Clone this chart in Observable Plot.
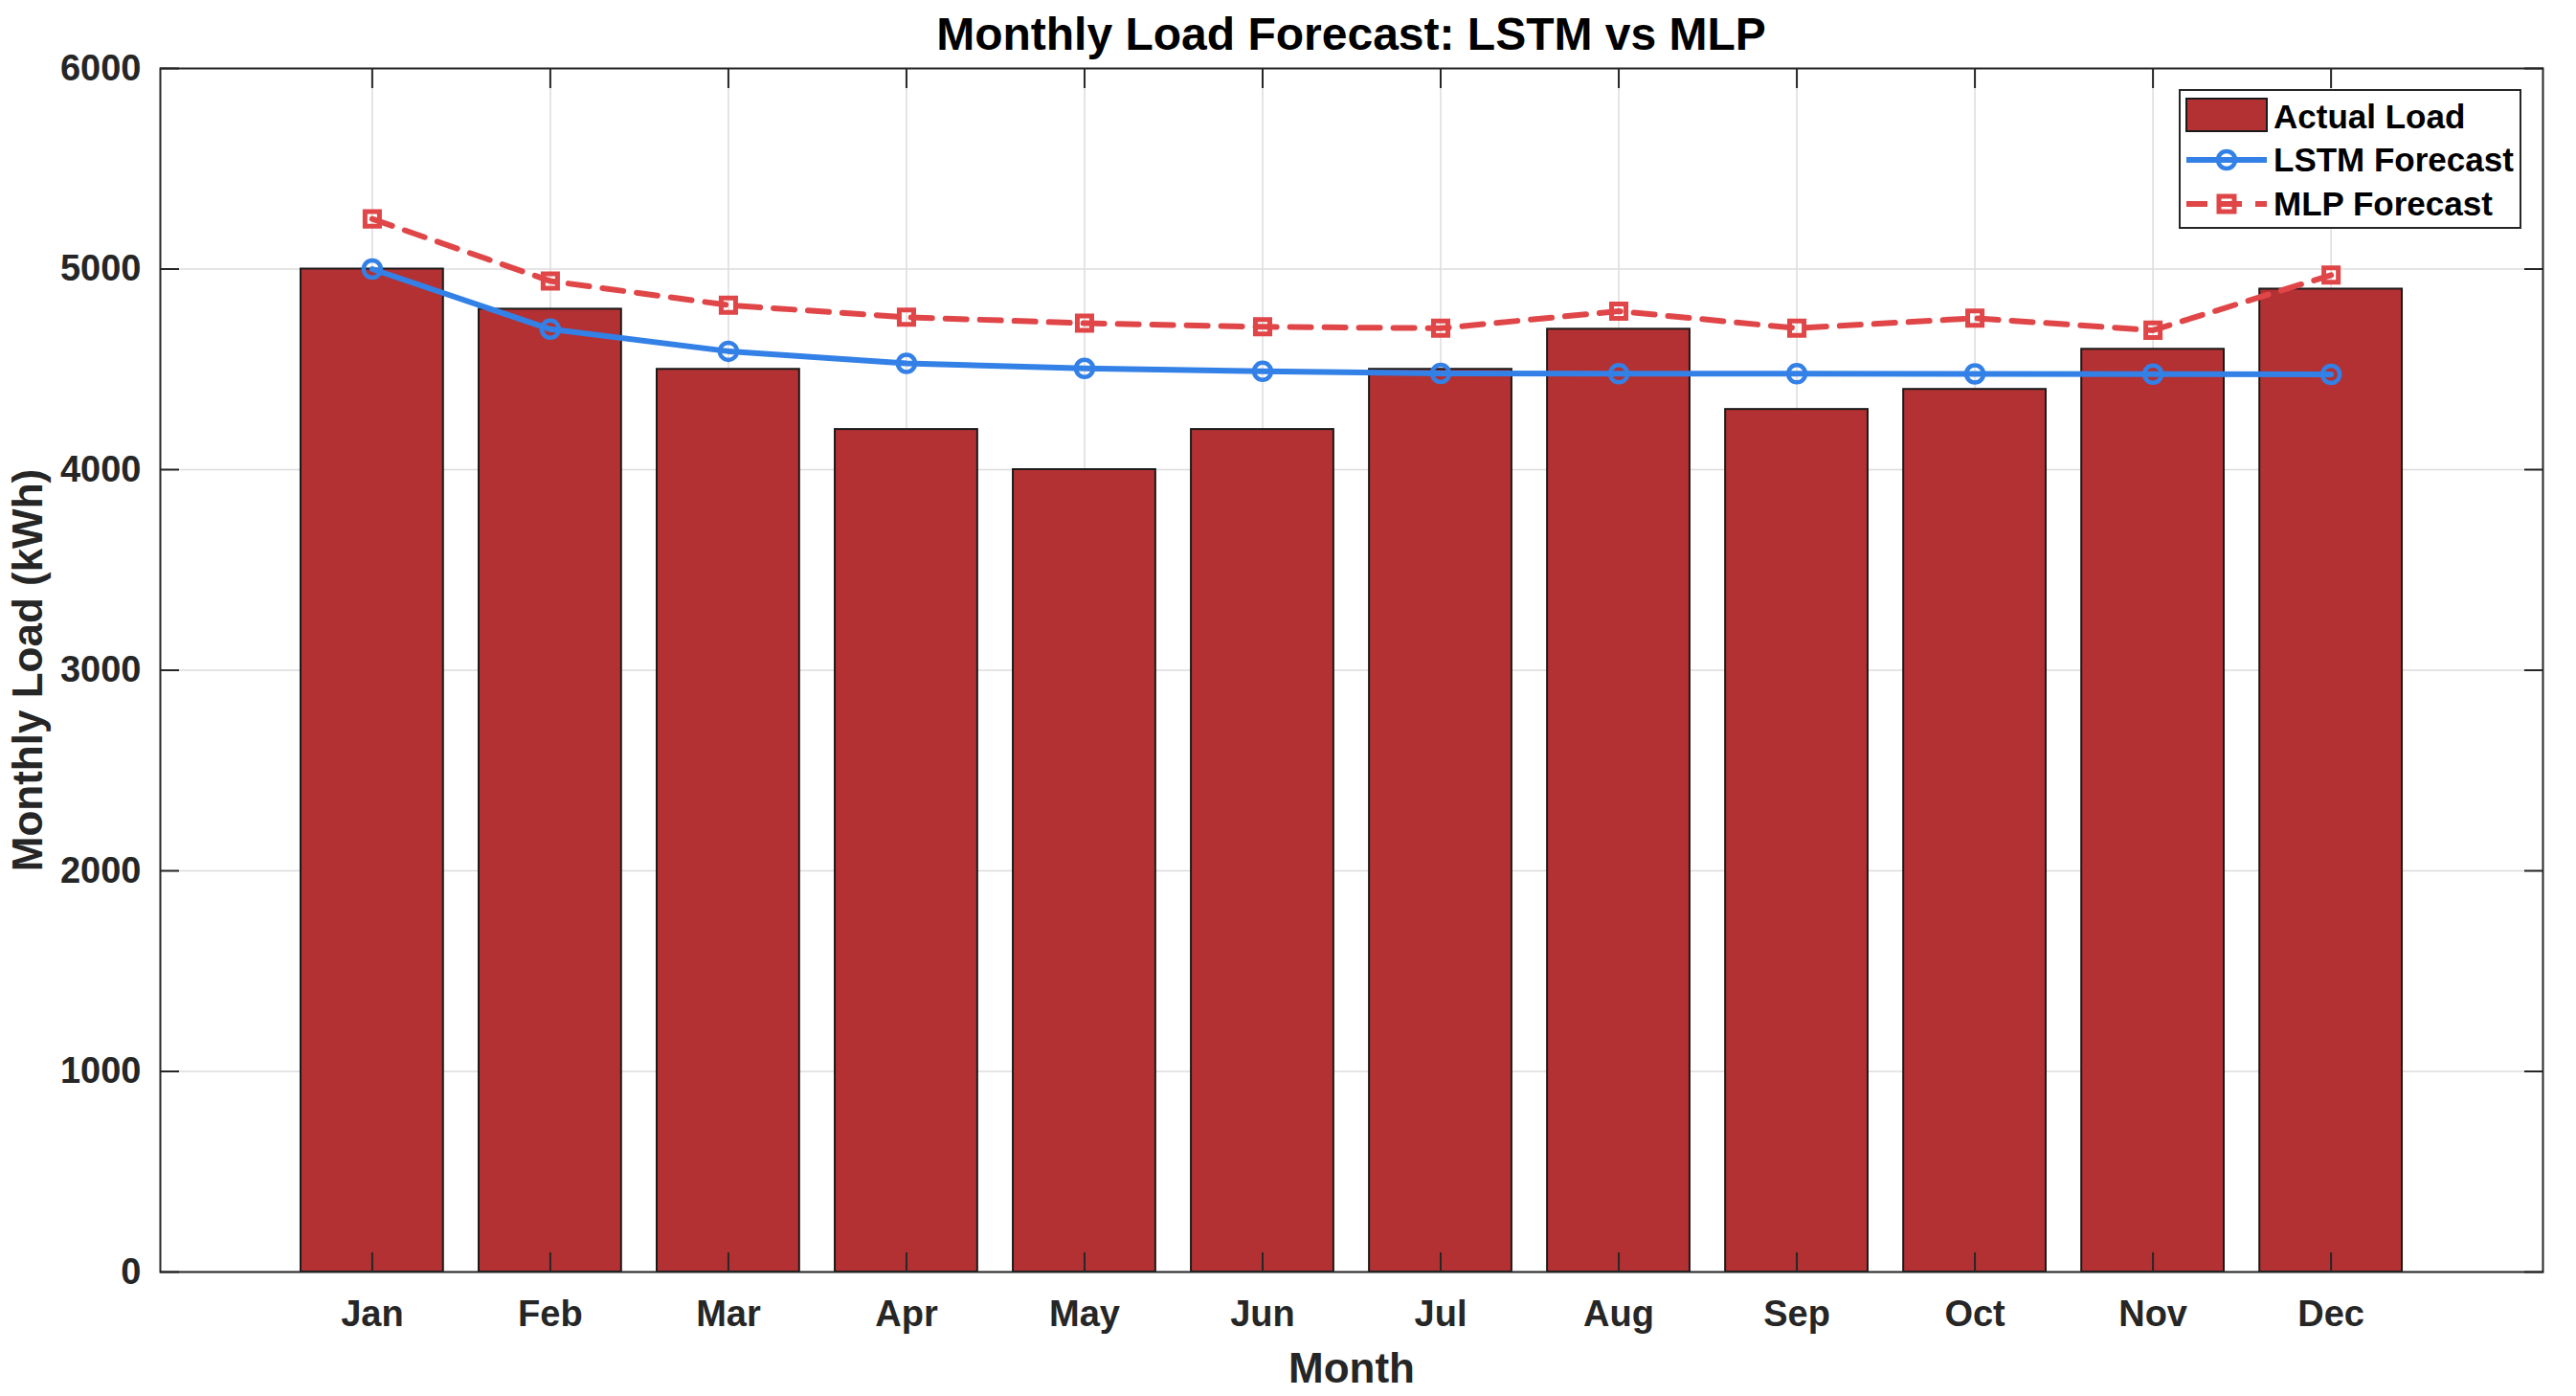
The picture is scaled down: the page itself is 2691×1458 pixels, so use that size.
<!DOCTYPE html>
<html>
<head>
<meta charset="utf-8">
<script src="https://cdn.jsdelivr.net/npm/d3@7"></script>
<script src="https://cdn.jsdelivr.net/npm/@observablehq/plot@0.6"></script>
<style>
  html, body { margin: 0; padding: 0; background: #fff; }
  #wrap { position: relative; width: 2691px; height: 1458px; font-family: "Liberation Sans", Arial, Helvetica, sans-serif; }
  #title { position: absolute; left: 167px; width: 2489px; top: 12px; text-align: center; font-size: 48px; line-height: 48px; font-weight: bold; color: #000; }
  #legend { position: absolute; left: 2276px; top: 93px; }
</style>
</head>
<body>
<div id="wrap">
  <div id="chart"></div>
  <div id="title">Monthly Load Forecast: LSTM vs MLP</div>
  <svg id="legend" width="360" height="148" xmlns="http://www.w3.org/2000/svg">
    <rect x="1" y="1" width="356" height="144" fill="#fff" stroke="#262626" stroke-width="2"/>
    <rect x="8" y="10" width="84" height="34" fill="rgb(179,49,51)" stroke="#1a1a1a" stroke-width="2"/>
    <text x="99" y="41" font-size="35" font-weight="bold" fill="#000" font-family="Liberation Sans, Arial, sans-serif">Actual Load</text>
    <line x1="8" x2="92" y1="74" y2="74" stroke="rgb(51,128,230)" stroke-width="6"/>
    <circle cx="50" cy="74" r="9" fill="none" stroke="rgb(51,128,230)" stroke-width="4.5"/>
    <text x="99" y="86" font-size="35" font-weight="bold" fill="#000" font-family="Liberation Sans, Arial, sans-serif">LSTM Forecast</text>
    <line x1="8" x2="92" y1="120" y2="120" stroke="rgb(224,70,72)" stroke-width="6" stroke-dasharray="22,14"/>
    <rect x="42" y="112" width="16" height="16" fill="none" stroke="rgb(224,70,72)" stroke-width="5"/>
    <text x="99" y="132" font-size="35" font-weight="bold" fill="#000" font-family="Liberation Sans, Arial, sans-serif">MLP Forecast</text>
  </svg>
</div>
<script>
// ---- data ----
const months = ["Jan", "Feb", "Mar", "Apr", "May", "Jun", "Jul", "Aug", "Sep", "Oct", "Nov", "Dec"];
const actualLoad = [5000, 4800, 4500, 4200, 4000, 4200, 4500, 4700, 4300, 4400, 4600, 4900];
const lstmForecast = [5000, 4700, 4590, 4530, 4505, 4490, 4480, 4478, 4478, 4477, 4476, 4475];
const mlpForecast = [5250, 4940, 4820, 4760, 4730, 4712, 4705, 4790, 4705, 4755, 4695, 4970];
const yTicks = [0, 1000, 2000, 3000, 4000, 5000, 6000];

// ---- tables ----
const monthIdx = months.map((m, i) => i + 1);
const bars = months.map((m, i) => ({ i: i + 1, month: m, value: actualLoad[i] }));
const lstm = months.map((m, i) => ({ i: i + 1, month: m, value: lstmForecast[i] }));
const mlp = months.map((m, i) => ({ i: i + 1, month: m, value: mlpForecast[i] }));

const barColor = "rgb(179,49,51)";
const lstmColor = "rgb(51,128,230)";
const mlpColor = "rgb(224,70,72)";
const axisColor = "#262626";
const gridColor = "#dcdcdc";
const font = "'Liberation Sans', Arial, Helvetica, sans-serif";

const chart = Plot.plot({
  width: 2691,
  height: 1458,
  marginLeft: 167,
  marginRight: 35,
  marginTop: 71,
  marginBottom: 130,
  style: { fontFamily: font, background: "white", color: axisColor, overflow: "visible" },
  x: { type: "linear", domain: [-0.19, 13.19], axis: null },
  y: { domain: [0, 6000], axis: null },
  marks: [
    Plot.gridX(monthIdx, { stroke: gridColor, strokeOpacity: 1, strokeWidth: 1.5 }),
    Plot.gridY(yTicks, { stroke: gridColor, strokeOpacity: 1, strokeWidth: 1.5 }),
    Plot.rectY(bars, { x1: d => d.i - 0.4, x2: d => d.i + 0.4, y: "value", fill: barColor, stroke: "#1a1a1a", strokeWidth: 2 }),
    Plot.line(mlp, { x: "i", y: "value", stroke: mlpColor, strokeWidth: 6, strokeDasharray: "22,14" }),
    Plot.dot(mlp, { x: "i", y: "value", symbol: "square", r: 8.5, fill: "none", stroke: mlpColor, strokeWidth: 5 }),
    Plot.line(lstm, { x: "i", y: "value", stroke: lstmColor, strokeWidth: 6 }),
    Plot.dot(lstm, { x: "i", y: "value", r: 9, fill: "none", stroke: lstmColor, strokeWidth: 4.5 }),
    // inward ticks on all four sides
    Plot.axisX(monthIdx, { anchor: "bottom", tickSize: 20, insetBottom: 20, tickFormat: () => "", label: null, stroke: axisColor, strokeWidth: 2 }),
    Plot.axisX(monthIdx, { anchor: "top", tickSize: 20, insetTop: 20, tickFormat: () => "", label: null, stroke: axisColor, strokeWidth: 2 }),
    Plot.axisY(yTicks, { anchor: "left", tickSize: 20, insetLeft: 20, tickFormat: () => "", label: null, stroke: axisColor, strokeWidth: 2 }),
    Plot.axisY(yTicks, { anchor: "right", tickSize: 20, insetRight: 20, tickFormat: () => "", label: null, stroke: axisColor, strokeWidth: 2 }),
    // tick labels
    Plot.axisX(monthIdx, { anchor: "bottom", tickSize: 0, tickPadding: 30, tickFormat: i => months[i - 1], label: null, fontSize: 38, fontWeight: "bold", fill: axisColor }),
    Plot.axisY(yTicks, { anchor: "left", tickSize: 0, tickPadding: 20, tickFormat: d => String(d), label: null, fontSize: 38, fontWeight: "bold", fill: axisColor }),
    // axis titles
    Plot.text(["Month"], { frameAnchor: "bottom", dy: 115, lineAnchor: "bottom", textAnchor: "middle", fontSize: 44, fontWeight: "bold", fill: axisColor }),
    Plot.text(["Monthly Load (kWh)"], { frameAnchor: "left", rotate: -90, dx: -124, lineAnchor: "bottom", textAnchor: "middle", fontSize: 44, fontWeight: "bold", fill: axisColor }),
    Plot.frame({ stroke: axisColor, strokeWidth: 2 })
  ]
});
document.getElementById("chart").appendChild(chart);
</script>
</body>
</html>
